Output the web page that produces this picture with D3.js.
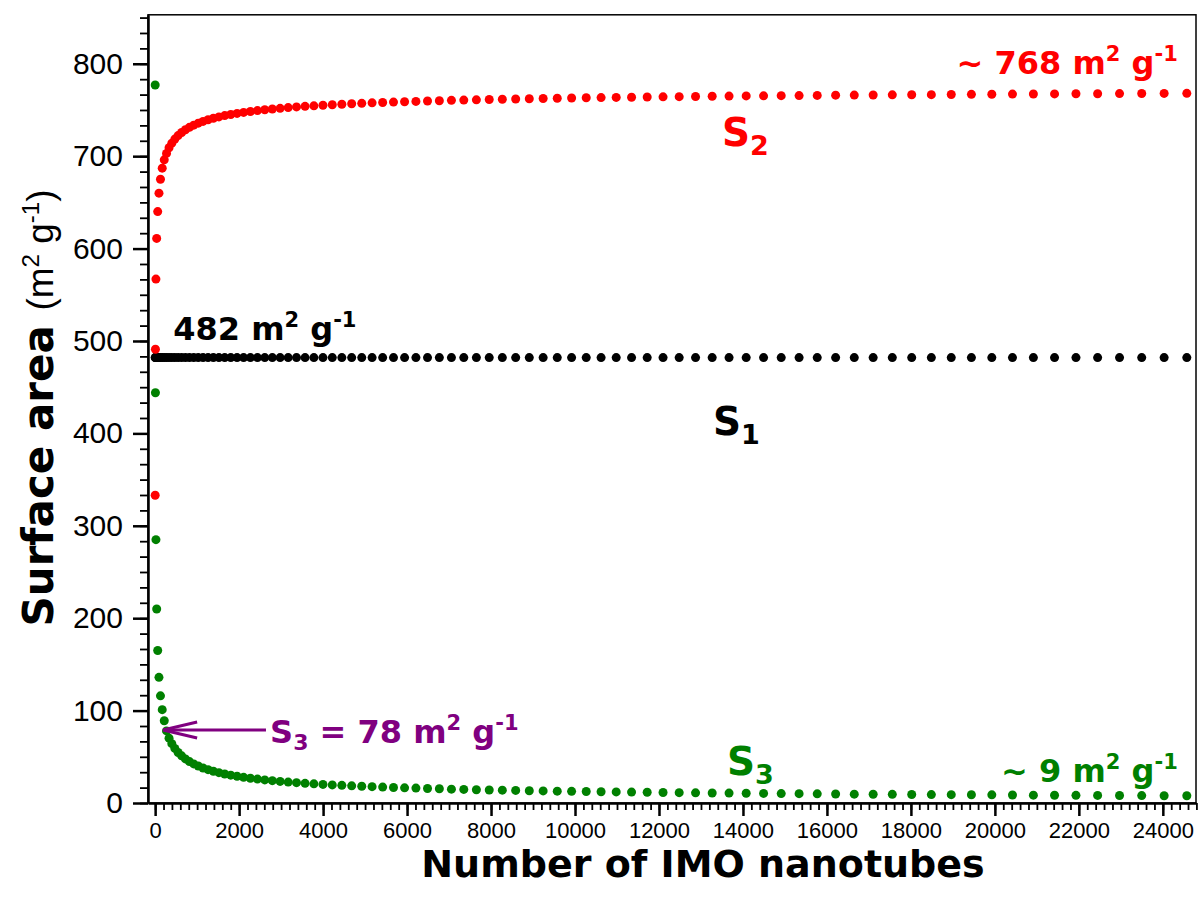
<!DOCTYPE html>
<html>
<head>
<meta charset="utf-8">
<script src="https://cdn.jsdelivr.net/npm/d3@7"></script>
<style>
  body { margin: 0; background: #fff; }
</style>
</head>
<body>
<svg width="1201" height="906"></svg>
<script>
// number of nanotubes in each hexagonal bundle (x values)
const nTubes = [1, 7, 19, 37, 61, 91, 127, 169, 217, 271, 331, 397, 469, 547, 631, 721, 817, 919,
  1027, 1141, 1261, 1387, 1519, 1657, 1801, 1951, 2107, 2269, 2437, 2611, 2791, 2977, 3169, 3367,
  3571, 3781, 3997, 4219, 4447, 4681, 4921, 5167, 5419, 5677, 5941, 6211, 6487, 6769, 7057, 7351,
  7651, 7957, 8269, 8587, 8911, 9241, 9577, 9919, 10267, 10621, 10981, 11347, 11719, 12097, 12481,
  12871, 13267, 13669, 14077, 14491, 14911, 15337, 15769, 16207, 16651, 17101, 17557, 18019, 18487,
  18961, 19441, 19927, 20419, 20917, 21421, 21931, 22447, 22969, 23497, 24031, 24571];

const s1 = [482, 482, 482, 482, 482, 482, 482, 482, 482, 482, 482, 482, 482, 482, 482, 482, 482, 482,
  482, 482, 482, 482, 482, 482, 482, 482, 482, 482, 482, 482, 482, 482, 482, 482, 482, 482, 482, 482,
  482, 482, 482, 482, 482, 482, 482, 482, 482, 482, 482, 482, 482, 482, 482, 482, 482, 482, 482, 482,
  482, 482, 482, 482, 482, 482, 482, 482, 482, 482, 482, 482, 482, 482, 482, 482, 482, 482, 482, 482,
  482, 482, 482, 482, 482, 482, 482, 482, 482, 482, 482, 482, 482];

const s2 = [333, 491, 567, 611, 640, 660, 675, 687, 696, 703, 709.1, 714.1, 718.5, 722.3, 725.6, 728.6,
  731.2, 733.6, 735.7, 737.6, 739.4, 741.0, 742.5, 743.9, 745.1, 746.3, 747.4, 748.4, 749.3, 750.2,
  751.0, 751.8, 752.6, 753.3, 753.9, 754.5, 755.1, 755.7, 756.2, 756.7, 757.2, 757.7, 758.1, 758.5,
  758.9, 759.3, 759.7, 760.0, 760.4, 760.7, 761.0, 761.3, 761.6, 761.9, 762.2, 762.4, 762.7, 762.9,
  763.2, 763.4, 763.6, 763.8, 764.0, 764.2, 764.4, 764.6, 764.8, 765.0, 765.2, 765.3, 765.5, 765.6,
  765.8, 766.0, 766.1, 766.2, 766.4, 766.5, 766.6, 766.8, 766.9, 767.0, 767.2, 767.3, 767.4, 767.5,
  767.6, 767.7, 767.8, 767.9, 768.0];

const s3 = [777, 444, 285, 210, 165, 136, 116, 101, 89, 78, 70.2, 64.2, 59.1, 54.7, 51.0, 47.7, 44.8,
  42.3, 40.0, 37.9, 36.1, 34.4, 32.8, 31.4, 30.1, 29.0, 27.8, 26.8, 25.9, 25.0, 24.2, 23.4, 22.6,
  22.0, 21.3, 20.7, 20.1, 19.6, 19.1, 18.6, 18.1, 17.7, 17.2, 16.8, 16.4, 16.1, 15.7, 15.4, 15.0,
  14.7, 14.4, 14.1, 13.9, 13.6, 13.3, 13.1, 12.8, 12.6, 12.4, 12.2, 12.0, 11.8, 11.6, 11.4, 11.2,
  11.0, 10.8, 10.7, 10.5, 10.4, 10.2, 10.1, 9.9, 9.8, 9.6, 9.5, 9.4, 9.2, 9.1, 9.0, 8.9, 8.8, 8.7,
  8.5, 8.4, 8.3, 8.2, 8.1, 8.0, 7.9, 7.8];

const xTicks = [0, 2000, 4000, 6000, 8000, 10000, 12000, 14000, 16000, 18000, 20000, 22000, 24000];
const yTicks = [0, 100, 200, 300, 400, 500, 600, 700, 800];

const red = "#ff0000", green = "#008000", purple = "#800080";
const annoFont = "'DejaVu Sans', Verdana, sans-serif";
const tickFont = "'Liberation Sans', Arial, sans-serif";

const svg = d3.select("svg");

const x = d3.scaleLinear().domain([-170, 24790]).range([148, 1196]);
const y = d3.scaleLinear().domain([0, 853]).range([803, 14.8]);

// frame
svg.append("rect")
  .attr("x", x.range()[0]).attr("y", y.range()[1])
  .attr("width", x.range()[1] - x.range()[0])
  .attr("height", y.range()[0] - y.range()[1])
  .attr("fill", "none").attr("stroke", "#000").attr("stroke-width", 1.5);

// minor ticks
svg.append("g")
  .attr("transform", "translate(0," + y.range()[0] + ")")
  .call(d3.axisBottom(x).tickValues(d3.range(0, 24801, 200)).tickSize(7).tickFormat(""))
  .call(g => g.select(".domain").remove())
  .call(g => g.selectAll("line").attr("stroke-width", 1.8));

svg.append("g")
  .attr("transform", "translate(" + x.range()[0] + ",0)")
  .call(d3.axisLeft(y).tickValues(d3.range(0, 851, 100 / 6)).tickSize(8).tickFormat(""))
  .call(g => g.select(".domain").remove())
  .call(g => g.selectAll("line").attr("stroke-width", 1.8));

// major axes
const axX = svg.append("g")
  .attr("transform", "translate(0," + y.range()[0] + ")")
  .call(d3.axisBottom(x).tickValues(xTicks).tickFormat(d3.format("d"))
    .tickSize(13).tickPadding(6).tickSizeOuter(0));
axX.selectAll("text").attr("font-family", tickFont).attr("font-size", 22).attr("fill", "#000");

const axY = svg.append("g")
  .attr("transform", "translate(" + x.range()[0] + ",0)")
  .call(d3.axisLeft(y).tickValues(yTicks).tickFormat(d3.format("d"))
    .tickSize(15).tickPadding(10).tickSizeOuter(0));
axY.selectAll("text").attr("font-family", tickFont).attr("font-size", 30).attr("fill", "#000");

svg.selectAll(".domain").attr("stroke-width", 2.5);
axX.selectAll(".tick line").attr("stroke-width", 2.5);
axY.selectAll(".tick line").attr("stroke-width", 2.5);

// axis titles
svg.append("text")
  .attr("x", 703).attr("y", 877)
  .attr("text-anchor", "middle").attr("fill", "#000")
  .attr("font-family", annoFont).attr("font-weight", "bold").attr("font-size", 38)
  .text("Number of IMO nanotubes");

const yTitle = svg.append("text")
  .attr("transform", "translate(53,408) rotate(-90)")
  .attr("text-anchor", "middle").attr("fill", "#000")
  .attr("font-family", tickFont).attr("font-size", 37);
yTitle.append("tspan").attr("font-family", annoFont).attr("font-weight", "bold")
  .attr("font-size", 42).text("Surface area ");
yTitle.append("tspan").text("(m");
yTitle.append("tspan").attr("font-size", 24).attr("dy", -14).text("2");
yTitle.append("tspan").attr("dy", 14).text(" g");
yTitle.append("tspan").attr("font-size", 24).attr("dy", -14).text("-1");
yTitle.append("tspan").attr("dy", 14).text(")");

// points
const pts = svg.append("g");
function dots(vals, color) {
  pts.append("g").selectAll("circle")
    .data(vals.map((v, i) => [nTubes[i], v]))
    .join("circle")
    .attr("cx", d => x(d[0]))
    .attr("cy", d => y(d[1]))
    .attr("r", 4.5)
    .attr("fill", color);
}
dots(s1, "#000");
dots(s2, red);
dots(s3, green);

// labels with superscripts / subscripts
function unitLabel(px, py, value, color, size, anchor) {
  const t = svg.append("text")
    .attr("x", x(px)).attr("y", y(py))
    .attr("text-anchor", anchor || "start")
    .attr("font-family", annoFont).attr("font-weight", "bold")
    .attr("font-size", size).attr("fill", color);
  const sup = Math.round(size * 0.65), up = Math.round(size * 0.4);
  t.append("tspan").text(value + " m");
  t.append("tspan").attr("font-size", sup).attr("dy", -up).text("2");
  t.append("tspan").attr("dy", up).text(" g");
  t.append("tspan").attr("font-size", sup).attr("dy", -up).text("-1");
  return t;
}
function sLabel(px, py, sub, color, size) {
  const t = svg.append("text")
    .attr("x", x(px)).attr("y", y(py))
    .attr("font-family", annoFont).attr("font-weight", "bold")
    .attr("font-size", size).attr("fill", color);
  t.append("tspan").text("S");
  t.append("tspan").attr("font-size", Math.round(size * 0.68)).attr("dy", size * 0.22).text(sub);
  return t;
}

unitLabel(24357, 789, "~ 768", red, 32, "end");
sLabel(13500, 711, "2", red, 39);
unitLabel(430, 501, "482", "#000", 32);
sLabel(13286, 398, "1", "#000", 39);
unitLabel(24357, 23, "~ 9", green, 32, "end");
sLabel(13619, 30, "3", green, 39);

// S3 = 78 annotation
const s3t = svg.append("text")
  .attr("x", x(2738)).attr("y", y(65))
  .attr("font-family", annoFont).attr("font-weight", "bold")
  .attr("font-size", 32).attr("fill", purple);
s3t.append("tspan").text("S");
s3t.append("tspan").attr("font-size", 22).attr("dy", 7).text("3");
s3t.append("tspan").attr("dy", -7).text(" = 78 m");
s3t.append("tspan").attr("font-size", 21).attr("dy", -13).text("2");
s3t.append("tspan").attr("dy", 13).text(" g");
s3t.append("tspan").attr("font-size", 21).attr("dy", -13).text("-1");

// arrow to the S3 point
const ay = y(79), ax0 = x(190), ax1 = x(2640);
svg.append("line")
  .attr("x1", ax0).attr("y1", ay).attr("x2", ax1).attr("y2", ay)
  .attr("stroke", purple).attr("stroke-width", 3);
svg.append("path")
  .attr("d", d3.line()([[ax0 + 34, ay - 8], [ax0, ay], [ax0 + 34, ay + 8]]))
  .attr("fill", "none").attr("stroke", purple).attr("stroke-width", 3);
</script>
</body>
</html>
